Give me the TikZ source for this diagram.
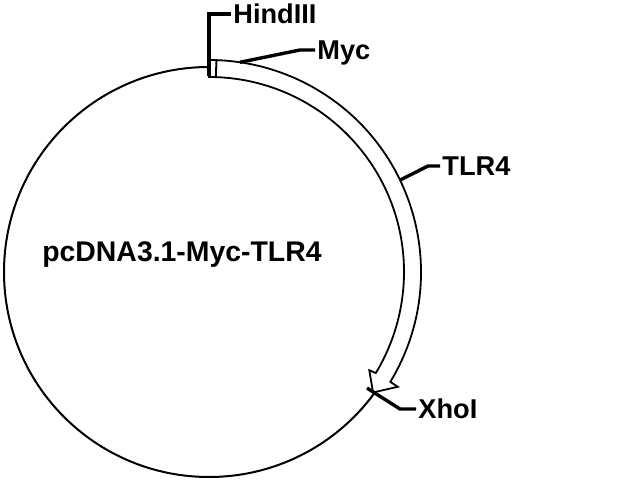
\documentclass[tikz,border=0pt]{standalone}
\usepackage{fontspec}
\setmainfont{Liberation Sans}

\begin{document}
\begin{tikzpicture}[x=0.5pt,y=0.5pt,
  site/.style={font=\bfseries\fontsize{13.6}{16}\selectfont,anchor=west,inner sep=1pt,text depth=0pt},
  leader/.style={line width=1.7pt}]
\useasboundingbox (-209,-208) rectangle (431,272);

\draw[line width=1pt] (0,0) circle[radius=205];

% TLR4 arrow
\draw[line width=0.9pt,fill=white] (88:195) arc[start angle=88,end angle=-31.2,radius=195]
  -- (-31.5:188) -- (-36.3:203.5) -- (-31.3:221) -- (-31.2:212)
  arc[start angle=-31.2,end angle=88,radius=212] -- cycle;
% Myc
\draw[line width=0.9pt,fill=white] (90:195) arc[start angle=90,end angle=88,radius=195]
  -- (88:212) arc[start angle=88,end angle=90,radius=212] -- cycle;

\path (-27,20) node[font=\bfseries\fontsize{14.2}{17}\selectfont,text depth=0pt] (P) {pcDNA3.1-Myc-TLR4};

\path (22,258)   node[site] (S1) {HindIII};
\path (106,222)  node[site] (S2) {Myc};
\path (231,106)  node[site] (S3) {TLR4};
\path (207,-137) node[site] (S4) {XhoI};

\coordinate (T1) at (90:196);
\coordinate (T2) at (81.6:212);
\coordinate (T3) at (25.7:212);
\coordinate (T4) at (-36.3:196);
\coordinate (E2) at (91,222);
\coordinate (E3) at (219,106);
\coordinate (E4) at (191,-137);

\draw[leader] (T1) |- (S1.west);
\draw[leader] (T2) -- (E2) -- (S2.west);
\draw[leader] (T3) -- (E3) -- (S3.west);
\draw[leader] (T4) -- (E4) -- (S4.west);
\end{tikzpicture}
\end{document}
